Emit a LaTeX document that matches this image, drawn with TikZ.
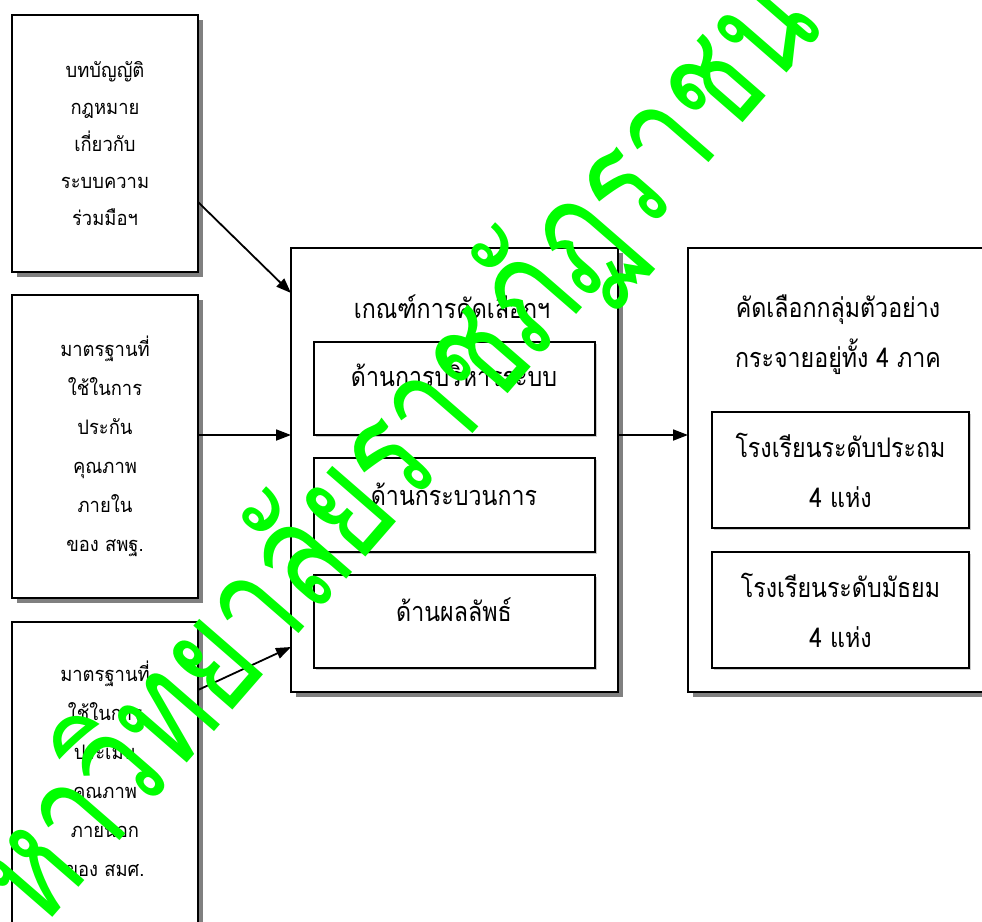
\documentclass[tikz,border=0pt]{standalone}
\usepackage{fontspec}
\usetikzlibrary{arrows.meta,shadows,calc}
\newfontfamily\thaismall[Script=Thai,FakeStretch=0.92]{Loma}
\newfontfamily\thaibig[Script=Thai,FakeStretch=0.86]{Loma}
\newfontfamily\thaiwm[Script=Thai,FakeStretch=0.76]{Loma}
\definecolor{wmgreen}{RGB}{0,255,0}
\begin{document}
\begin{tikzpicture}[x=1pt,y=-1pt,
  box/.style={draw=black, line width=1.8pt, fill=white, inner sep=0pt, outer sep=0pt, anchor=north west,
    drop shadow={shadow xshift=5pt, shadow yshift=-5pt, fill=black!50, opacity=1}},
  inbox/.style={draw=black, line width=1.8pt, fill=white, inner sep=0pt, outer sep=0pt, anchor=north west,
    drop shadow={shadow xshift=1.5pt, shadow yshift=-1.5pt, fill=black!20, opacity=1}},
  smalltxt/.style={font=\thaismall\fontsize{20}{37}\selectfont, align=center},
  midtxt/.style={font=\thaismall\fontsize{20}{39}\selectfont, align=center},
  bigtxt/.style={font=\thaibig\fontsize{27}{50}\selectfont, align=center},
  arr/.style={line width=1.8pt, -{Triangle[length=15pt,width=11pt]}},
  wm/.style={font=\thaiwm\fontsize{152}{152}\selectfont, text=wmgreen, inner sep=0pt}
]
\useasboundingbox (0,0) rectangle (982,921);
\clip (0,0) rectangle (982,921);
% left boxes
\node[box, smalltxt, minimum width=186pt, minimum height=257pt] (b1) at (12,15)
  {บทบัญญัติ\\กฎหมาย\\เกี่ยวกับ\\ระบบความ\\ร่วมมือฯ};
\node[box, midtxt, minimum width=186pt, minimum height=303pt] (b2) at (12,295)
  {มาตรฐานที่\\ใช้ในการ\\ประกัน\\คุณภาพ\\ภายใน\\ของ สพฐ.};
\node[box, minimum width=186pt, minimum height=310pt] (b3) at (12,622) {};
\node[midtxt] (b3t) at (105,769)
  {มาตรฐานที่\\ใช้ในการ\\ประเมิน\\คุณภาพ\\ภายนอก\\ของ สมศ.};
% central box
\node[box, minimum width=327pt, minimum height=444pt] (c) at (291,248) {};
\node[bigtxt] (ct) at (452,307) {เกณฑ์การคัดเลือกฯ};
\node[inbox, minimum width=281pt, minimum height=93pt] (ca) at (314,342) {};
\node[inbox, minimum width=281pt, minimum height=94pt] (cb) at (314,458) {};
\node[inbox, minimum width=281pt, minimum height=93pt] (cc) at (314,575) {};
\node[bigtxt] (cat) at (454,375) {ด้านการบริหารระบบ};
\node[bigtxt] (cbt) at (454,494) {ด้านกระบวนการ};
\node[bigtxt] (cct) at (454,610) {ด้านผลลัพธ์};
% right box
\node[box, minimum width=320pt, minimum height=444pt] (r) at (688,248) {};
\node[bigtxt] (rt) at (838,335) {คัดเลือกกลุ่มตัวอย่าง\\กระจายอยู่ทั้ง 4 ภาค};
\node[inbox, bigtxt, minimum width=257pt, minimum height=116pt] (rd) at (712,412)
  {โรงเรียนระดับประถม\\4 แห่ง};
\node[inbox, bigtxt, minimum width=257pt, minimum height=116pt] (re) at (712,552)
  {โรงเรียนระดับมัธยม\\4 แห่ง};
% arrows
\draw[arr] ([yshift=-58.5pt]b1.east) -- ([yshift=177pt]c.west);
\draw[arr] ([yshift=11.5pt]b2.east) -- ([yshift=35pt]c.west);
\draw[arr] ([yshift=87pt]b3.east) -- ([yshift=-177pt]c.west);
\draw[arr] ([yshift=35pt]c.east) -- ([yshift=35pt]r.west);
% watermark
\node[wm, rotate=49, anchor=base west] (wmk) at (40,932) {หาวิทยาลัยราชภัฏราชน};
\end{tikzpicture}
\end{document}
